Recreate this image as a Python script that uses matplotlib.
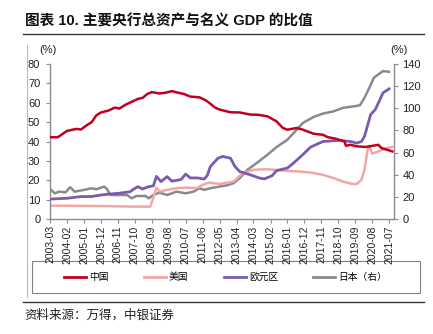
import pandas as pd
import matplotlib
matplotlib.use("Agg")
import matplotlib.pyplot as plt
import matplotlib.dates as mdates
from matplotlib.lines import Line2D
from matplotlib.patches import Rectangle

plt.rcParams['font.family'] = ['Liberation Sans', 'Noto Sans CJK SC', 'DejaVu Sans']

# 中国 (左轴, %)
cn_dates = ['2003-03', '2003-08', '2004-02', '2004-08', '2004-11', '2005-03', '2005-06', '2005-09',
            '2005-12', '2006-05', '2006-09', '2006-12', '2007-04', '2007-08', '2007-12', '2008-03',
            '2008-06', '2008-09', '2009-02', '2009-06', '2009-10', '2010-02', '2010-06', '2010-10',
            '2011-04', '2011-08', '2011-11', '2012-02', '2012-05', '2012-12', '2013-06', '2014-01',
            '2014-06', '2014-12', '2015-06', '2015-10', '2016-01', '2016-07', '2016-11', '2017-06',
            '2017-12', '2018-03', '2018-09', '2019-02', '2019-03', '2019-06', '2019-10', '2020-04',
            '2020-12', '2021-02', '2021-09']
cn_vals = [42.2, 42.2, 45.5, 46.5, 46.2, 48.5, 50.0, 53.5,
           55.0, 56.0, 57.5, 57.0, 59.0, 60.5, 62.0, 62.5,
           64.5, 65.5, 64.8, 65.2, 66.0, 65.2, 64.5, 63.2,
           62.8, 61.3, 59.5, 57.5, 56.5, 55.1, 55.0, 53.9,
           53.8, 53.0, 50.4, 47.0, 46.1, 47.0, 46.1, 44.0,
           43.5, 42.3, 41.3, 40.0, 37.8, 38.3, 37.5, 37.2,
           38.3, 36.6, 34.9]

# 美国 (左轴, %)
us_dates = ['2003-03', '2005-09', '2007-10', '2008-08', '2008-10', '2008-12', '2009-02', '2009-07',
            '2010-01', '2010-07', '2011-02', '2011-06', '2011-10', '2012-05', '2013-02', '2013-08',
            '2014-03', '2014-12', '2015-10', '2016-09', '2017-04', '2017-12', '2018-07', '2019-01',
            '2019-07', '2019-10', '2020-01', '2020-03', '2020-05', '2020-06', '2020-08', '2020-12',
            '2021-05', '2021-09']
us_vals = [6.9, 6.7, 6.4, 6.4, 11.0, 16.2, 14.2, 15.0,
           15.9, 16.2, 15.9, 17.6, 18.8, 18.1, 19.3, 23.7,
           25.4, 25.7, 25.0, 24.5, 24.0, 22.8, 21.1, 19.3,
           18.1, 18.1, 20.2, 25.4, 35.5, 37.8, 33.7, 34.9,
           36.6, 37.2]

# 欧元区 (左轴, %)
ez_dates = ['2003-03', '2004-02', '2004-11', '2005-06', '2005-12', '2006-06', '2006-12', '2007-07',
            '2007-09', '2007-12', '2008-03', '2008-07', '2008-10', '2008-12', '2009-03', '2009-07',
            '2009-10', '2010-04', '2010-07', '2010-10', '2011-03', '2011-07', '2011-09', '2011-11',
            '2012-04', '2012-07', '2012-12', '2013-03', '2013-06', '2014-01', '2014-07', '2014-10',
            '2015-03', '2015-06', '2016-01', '2016-05', '2016-09', '2017-01', '2017-04', '2017-12',
            '2018-11', '2019-06', '2019-10', '2020-01', '2020-03', '2020-07', '2020-10', '2020-12',
            '2021-03', '2021-07']
ez_vals = [10.3, 10.7, 11.6, 11.6, 12.4, 12.9, 13.3, 14.1,
           15.3, 16.7, 15.5, 16.7, 17.1, 22.0, 19.3, 21.9,
           19.5, 20.4, 23.2, 21.2, 21.2, 20.6, 22.5, 27.1,
           31.4, 32.3, 31.4, 27.1, 24.5, 22.8, 21.1, 20.7,
           22.3, 25.0, 26.3, 28.9, 31.8, 34.8, 37.1, 40.0,
           40.6, 40.0, 39.2, 40.0, 42.6, 53.9, 56.5, 59.9,
           65.1, 67.2]

# 日本 (右轴, %)
jp_dates = ['2003-03', '2003-06', '2003-09', '2004-01', '2004-04', '2004-07', '2005-01', '2005-06',
            '2005-09', '2006-02', '2006-04', '2006-06', '2006-11', '2007-05', '2007-08', '2007-11',
            '2008-05', '2008-07', '2008-10', '2009-02', '2009-07', '2010-01', '2010-07', '2010-12',
            '2011-04', '2011-07', '2011-11', '2012-05', '2012-10', '2013-02', '2013-06', '2013-11',
            '2014-05', '2014-12', '2015-06', '2016-01', '2016-08', '2016-11', '2017-06', '2017-12',
            '2018-07', '2019-01', '2019-08', '2019-12', '2020-03', '2020-07', '2020-09', '2020-12',
            '2021-03', '2021-07']
jp_vals = [27.2, 23.2, 24.7, 24.1, 28.7, 24.7, 26.3, 27.8,
           26.9, 29.3, 27.0, 21.8, 21.6, 21.7, 18.7, 20.8,
           20.8, 18.7, 21.7, 23.8, 21.7, 24.7, 23.2, 24.7,
           27.8, 26.3, 27.8, 29.3, 30.5, 32.4, 36.9, 44.4,
           50.5, 58.0, 65.0, 71.6, 82.2, 86.8, 92.2, 95.2,
           97.3, 100.4, 101.8, 102.7, 109.4, 121.0, 127.6, 130.6,
           133.6, 133.0]

names = ['中国', '美国', '欧元区', '日本（右）']
colors = ['#C0001E', '#F2A7A7', '#7A5BB0', '#8A8A8A']
tick_dates = pd.date_range('2003-03-01', periods=21, freq='11MS')

fig = plt.figure(figsize=(4.33, 3.34), dpi=100)
ax = fig.add_axes([0.1155, 0.3443, 0.7945, 0.464])
ax2 = ax.twinx()

ax.plot(pd.to_datetime(ez_dates), ez_vals, color=colors[2], lw=2.0, zorder=3)
ax.plot(pd.to_datetime(us_dates), us_vals, color=colors[1], lw=1.8, zorder=2)
ax.plot(pd.to_datetime(cn_dates), cn_vals, color=colors[0], lw=1.8, zorder=4)
ax2.plot(pd.to_datetime(jp_dates), jp_vals, color=colors[3], lw=1.8)
ax.set_zorder(ax2.get_zorder() + 1)
ax.patch.set_visible(False)

ax.set_xlim(pd.Timestamp('2003-03-01'), pd.Timestamp('2021-10-06'))
ax.set_ylim(0, 80)
ax2.set_ylim(0, 140)
ax.set_yticks(range(0, 81, 10))
ax2.set_yticks(range(0, 141, 20))
ax.set_xticks(tick_dates)
ax.xaxis.set_major_formatter(mdates.DateFormatter('%Y-%m'))

spine_c = '#8C8C8C'
for a in (ax, ax2):
    a.spines['top'].set_visible(False)
    for s in ('left', 'right', 'bottom'):
        a.spines[s].set_color(spine_c)
        a.spines[s].set_linewidth(1.0)
ax.spines['right'].set_visible(False)
ax2.spines['left'].set_visible(False)
ax2.spines['bottom'].set_visible(False)

ax.tick_params(axis='y', labelsize=8, length=3, width=0.8, color=spine_c, pad=4, labelcolor='#222222')
ax2.tick_params(axis='y', labelsize=8, length=3, width=0.8, color=spine_c, pad=3, labelcolor='#222222')
ax.tick_params(axis='x', labelsize=7.5, length=3, width=0.8, color=spine_c, pad=1.5,
               labelrotation=90, labelcolor='#222222')

fig.text(0.11, 0.85, '(%)', fontsize=8, ha='center', va='center', color='#222222')
fig.text(0.921, 0.85, '(%)', fontsize=8, ha='center', va='center', color='#222222')

# 标题与框线
fig.text(0.057, 0.937, '图表 10. 主要央行总资产与名义 GDP 的比值', fontsize=10.5,
         fontweight='bold', ha='left', va='center', color='#111111')
fig.add_artist(Line2D([0.053, 0.979], [0.8997, 0.8997], color='#333333', lw=1.0))
fig.add_artist(Line2D([0.053, 0.979], [0.0958, 0.0958], color='#333333', lw=1.0))
fig.add_artist(Line2D([0.0624, 0.0624], [0.111, 0.865], color='#BBBBBB', lw=0.8))

# 图例
fig.add_artist(Rectangle((0.0739, 0.1228), 0.896, 0.0958, transform=fig.transFigure,
                         fill=False, edgecolor='#808080', lw=0.8))
handles = [Line2D([], [], color=c, lw=2.0) for c in colors]
fig.legend(handles, names, loc='center', bbox_to_anchor=(0.5208, 0.1707), ncol=4,
           frameon=False, fontsize=7, handlelength=2.3, handletextpad=0.3,
           columnspacing=3.6, borderpad=0)

fig.text(0.057, 0.054, '资料来源：万得，中银证券', fontsize=9, ha='left', va='center',
         color='#222222', style='italic')

fig.savefig('out.png', dpi=100)
